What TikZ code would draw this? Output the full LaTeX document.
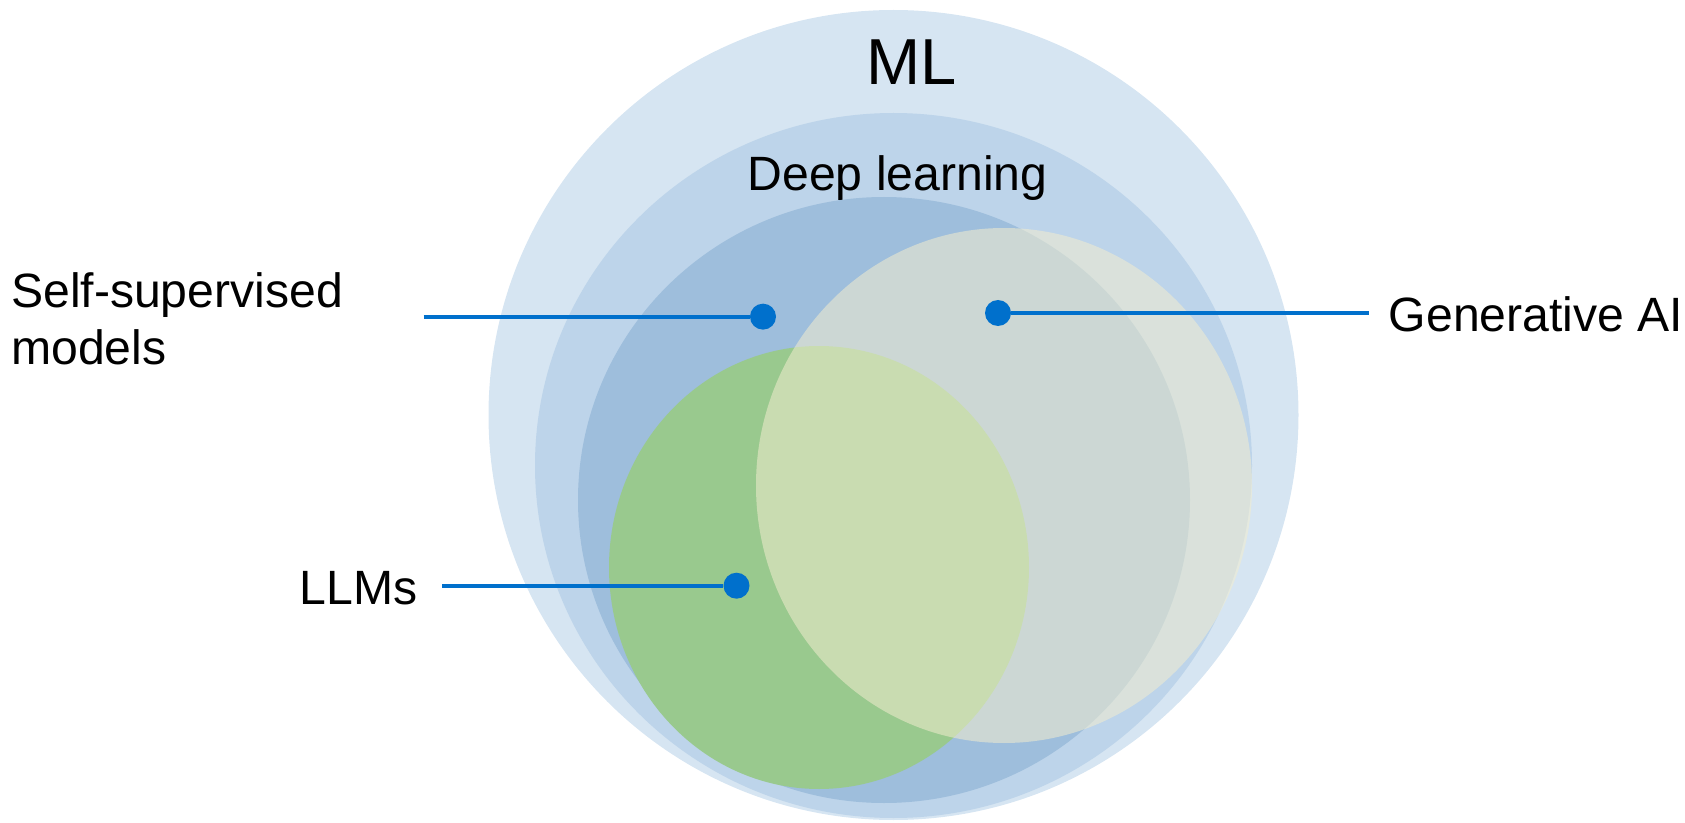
\documentclass[tikz,border=0pt]{standalone}
\usepackage{fontspec}
\setmainfont{Liberation Sans}
\usepackage{tikz}
\usepackage{xcolor}
\definecolor{mlblue}{HTML}{D6E5F2}
\definecolor{dlblue}{HTML}{BDD4EA}
\definecolor{sslblue}{HTML}{9EBEDC}
\definecolor{llmgreen}{HTML}{99C98E}
\definecolor{genpale}{HTML}{F2EDCF}
\definecolor{pointblue}{HTML}{0070CC}
\tikzstyle{lbl} = [inner sep=0pt, font=\fontsize{27.4}{32.3}\selectfont]
\tikzstyle{bullet} = [circle, fill=pointblue, minimum size=0.52cm, inner sep=0pt]
\tikzstyle{lead} = [line width=2.3pt, draw=pointblue]

\begin{document}
\begin{tikzpicture}
	\useasboundingbox (0,0) rectangle (33.7,16.44);
	%ML
	\fill[mlblue] (17.87,8.14) circle (8.10);
	\node[lbl, font=\fontsize{37}{44}\selectfont, anchor=base west] (ml) at (17.32,14.74) {ML};
	%Deep learning
	\fill[dlblue] (17.87,7.13) ellipse (7.17 and 7.05);
	\node[lbl, anchor=base west] (dl) at (14.945,12.62) {Deep learning};
	%Self-supervised
	\fill[sslblue] (17.68,6.44) ellipse (6.12 and 6.06);
	%LLMs
	\fill[llmgreen] (16.38,5.09) ellipse (4.20 and 4.43);
	%Generative AI
	\fill[genpale, fill opacity=0.55] (20.08,6.73) ellipse (4.96 and 5.15);

	%Self-supervised callout
	\node[bullet] (sslpt) at (15.26,10.107) {};
	\node[lbl, align=left, anchor=west] (ssl) at (0.216,10.06) {Self-supervised\\models};
	\coordinate (sslend) at (8.47,10.107);
	\draw[lead] (sslend) -- (sslpt);
	%LLMs callout
	\node[bullet] (llmpt) at (14.73,4.726) {};
	\node[lbl, anchor=base west] (llm) at (5.99,4.354) {LLMs};
	\coordinate (llmend) at (8.84,4.726);
	\draw[lead] (llmend) -- (llmpt);
	%Generative AI callout
	\node[bullet] (genpt) at (19.96,10.18) {};
	\node[lbl, anchor=base west] (gen) at (27.77,9.806) {Generative AI};
	\coordinate (genend) at (27.37,10.18);
	\draw[lead] (genpt) -- (genend);
\end{tikzpicture}
\end{document}
